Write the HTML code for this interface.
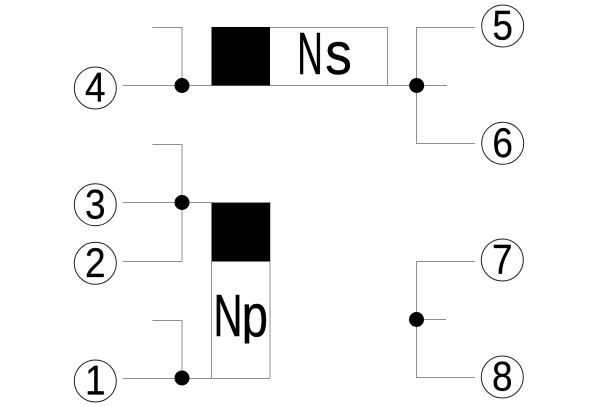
<!DOCTYPE html>
<html>
<head>
<meta charset="utf-8">
<style>
html,body{margin:0;padding:0;background:#fff;width:600px;height:406px;overflow:hidden}
svg{display:block}
text{font-family:"Liberation Sans",sans-serif;fill:#000}
</style>
</head>
<body>
<svg width="600" height="406" viewBox="0 0 600 406" xmlns="http://www.w3.org/2000/svg">
  <defs>
    <clipPath id="desc"><rect x="200" y="280" width="80" height="63.5"/></clipPath>
  </defs>
  <g fill="none" stroke="#8f8f8f" stroke-width="1">
    <path d="M123 85.5H447M152.5 27.5H182V85.5M270 27.5H387.5V85.5"/>
    <path d="M475 27.5H416.5V143.5H475"/>
    <path d="M152.5 144.5H182V261.5H123M123 202.5H270V378.5"/>
    <path d="M211.5 261.5V378.5M123 378.5H270M152.5 320.5H182V378.5"/>
    <path d="M475 261.5H416.5V377.5H475M416.5 319.5H446"/>
  </g>
  <rect x="211.5" y="27" width="58.5" height="58.5" fill="#000"/>
  <rect x="211.5" y="203" width="58.5" height="58.5" fill="#000"/>
  <g fill="#000">
    <circle cx="182" cy="85.5" r="7.5"/>
    <circle cx="182" cy="202.5" r="7.5"/>
    <circle cx="182" cy="378" r="7.5"/>
    <circle cx="416.7" cy="85.5" r="7.5"/>
    <circle cx="416.5" cy="319.5" r="7.5"/>
  </g>
  <g fill="#fff" stroke="#222" stroke-width="1">
    <circle cx="95.3" cy="88" r="21"/>
    <circle cx="95.3" cy="204.7" r="21"/>
    <circle cx="95.3" cy="263.3" r="21"/>
    <circle cx="95.3" cy="381" r="21"/>
    <circle cx="502.7" cy="26" r="21"/>
    <circle cx="502.7" cy="143.3" r="21"/>
    <circle cx="502.3" cy="260" r="21"/>
    <circle cx="502.3" cy="377" r="21"/>
  </g>
  <g font-size="42" text-anchor="middle" stroke="#000" stroke-width=".25">
    <text transform="translate(95.3 101.7) scale(.88 1)">4</text>
    <text transform="translate(95.3 218.4) scale(.88 1)">3</text>
    <text transform="translate(95.3 277) scale(.88 1)">2</text>
    <text transform="translate(95.3 394.7) scale(.88 1)">1</text>
    <text transform="translate(502.7 39.7) scale(.88 1)">5</text>
    <text transform="translate(502.7 157) scale(.88 1)">6</text>
    <text transform="translate(502.3 273.7) scale(.88 1)">7</text>
    <text transform="translate(502.3 390.7) scale(.88 1)">8</text>
  </g>
  <g font-size="59" stroke="#000" stroke-width=".45">
    <text transform="translate(297.3 74) scale(.6 1)">N</text>
    <text transform="translate(325.3 74) scale(.9 1)">s</text>
    <text transform="translate(213.5 336) scale(.68 1)">N</text>
    <g clip-path="url(#desc)"><text transform="translate(241.8 336) scale(.8 1)">p</text></g>
  </g>
</svg>
</body>
</html>
